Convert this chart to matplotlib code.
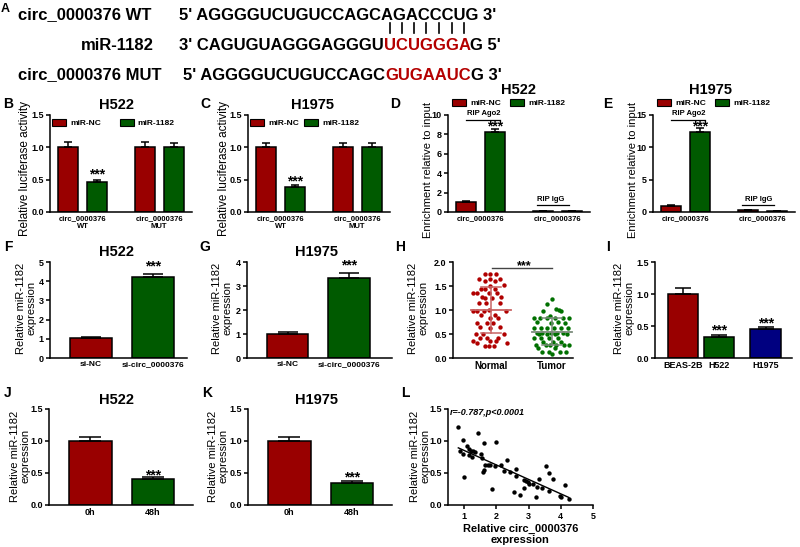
import matplotlib
matplotlib.use('Agg')
import matplotlib.pyplot as plt
from matplotlib.patches import Patch
from matplotlib.lines import Line2D
import numpy as np

plt.rcParams['font.family'] = ['Liberation Sans', 'DejaVu Sans']

# ---------------- data ----------------
seq_wt = "5' AGGGGUCUGUCCAGCAGACCCUG 3'"
seq_mir_pre = "3' CAGUGUAGGGAGGGU"
seq_mir_seed = "UCUGGGA"
seq_mir_post = "G 5'"
seq_mut_pre = "5' AGGGGUCUGUCCAGC"
seq_mut_red = "GUGAAUC"
seq_mut_post = "G 3'"

luc_groups = ['circ_0000376\nWT', 'circ_0000376\nMUT']
b_nc, b_nc_err = [1.00, 1.00], [0.08, 0.09]
b_mir, b_mir_err = [0.47, 1.00], [0.03, 0.06]
c_nc, c_nc_err = [1.00, 1.00], [0.06, 0.07]
c_mir, c_mir_err = [0.38, 1.01], [0.04, 0.05]

rip_groups = ['circ_0000376', 'circ_0000376']
d_nc, d_nc_err = [1.05, 0.10], [0.05, 0.01]
d_mir, d_mir_err = [8.25, 0.08], [0.30, 0.01]
e_nc, e_nc_err = [1.00, 0.35], [0.10, 0.03]
e_mir, e_mir_err = [12.3, 0.10], [0.70, 0.02]

si_groups = ['si-NC', 'si-circ_0000376']
f_vals, f_err = [1.02, 4.22], [0.07, 0.18]
g_vals, g_err = [1.00, 3.33], [0.07, 0.20]

normal_y = [1.76, 1.76, 1.76, 1.65, 1.65, 1.65, 1.60, 1.60, 1.53, 1.51,
            1.43, 1.43, 1.43, 1.35, 1.35, 1.35, 1.35, 1.28, 1.28, 1.24,
            1.24, 1.14, 1.14, 1.14, 1.01, 0.98, 0.98, 0.98, 0.98, 0.90,
            0.90, 0.83, 0.83, 0.72, 0.72, 0.72, 0.65, 0.65, 0.62, 0.51,
            0.51, 0.51, 0.42, 0.42, 0.42, 0.35, 0.35, 0.35, 0.32, 0.32,
            0.26, 0.26, 0.26]
normal_dx = [-0.10, -0.02, 0.08, -0.20, -0.01, 0.14, -0.10, 0.06, 0.22, -0.02,
             -0.17, -0.09, 0.07, -0.29, -0.23, -0.04, 0.10, -0.15, 0.17, -0.10,
             0.02, -0.19, -0.08, 0.14, -0.04, -0.29, -0.22, -0.12, 0.24, -0.16,
             0.07, -0.02, 0.12, -0.23, -0.07, 0.04, -0.18, 0.14, -0.02, -0.25,
             -0.13, 0.21, -0.18, -0.07, 0.12, -0.29, -0.01, 0.09, -0.22, 0.27,
             -0.10, -0.03, 0.05]
tumor_y = [1.22, 1.12, 1.03, 1.00, 0.97, 0.97, 0.88, 0.84, 0.84, 0.84,
           0.84, 0.84, 0.84, 0.76, 0.76, 0.72, 0.72, 0.63, 0.63, 0.63,
           0.63, 0.63, 0.63, 0.53, 0.53, 0.53, 0.53, 0.53, 0.49, 0.49,
           0.49, 0.49, 0.41, 0.41, 0.41, 0.41, 0.33, 0.33, 0.33, 0.27,
           0.27, 0.27, 0.27, 0.27, 0.27, 0.20, 0.20, 0.13, 0.13, 0.13,
           0.13, 0.09]
tumor_dx = [0.00, -0.09, 0.07, 0.11, -0.15, 0.14, -0.04, -0.29, -0.20, -0.09,
            0.04, 0.18, 0.27, -0.24, 0.10, -0.02, 0.21, -0.29, -0.18, -0.09,
            0.03, 0.14, 0.26, -0.25, -0.16, -0.02, 0.08, 0.18, -0.22, -0.09,
            0.04, 0.24, -0.29, -0.19, -0.05, 0.10, -0.15, 0.02, 0.15, -0.27,
            -0.10, -0.04, 0.07, 0.19, 0.28, -0.23, 0.04, -0.17, -0.06, 0.12,
            0.23, -0.01]
h_means = [1.00, 0.55]
h_sds = [0.48, 0.28]
h_groups = ['Normal', 'Tumor']

i_groups = ['BEAS-2B', 'H522', 'H1975']
i_vals, i_err = [1.00, 0.33, 0.45], [0.09, 0.03, 0.03]

time_groups = ['0h', '48h']
j_vals, j_err = [1.00, 0.40], [0.07, 0.03]
k_vals, k_err = [1.00, 0.35], [0.07, 0.03]

l_x = [0.82, 0.98, 0.87, 0.98, 1.01, 1.10, 1.16, 1.20, 1.14, 1.23,
       1.28, 1.34, 1.44, 1.53, 1.57, 1.58, 1.62, 1.63, 1.66, 1.73,
       1.80, 1.85, 1.95, 2.00, 2.13, 2.23, 2.32, 2.41, 2.55, 2.60,
       2.62, 2.74, 2.85, 2.87, 2.91, 2.97, 3.02, 3.14, 3.22, 3.26,
       3.33, 3.43, 3.53, 3.64, 3.75, 3.62, 3.99, 4.01, 4.12, 4.25]
l_y = [1.22, 1.02, 0.85, 0.80, 0.43, 0.92, 0.88, 0.85, 0.78, 0.75,
       0.85, 0.83, 1.13, 0.80, 0.74, 0.52, 0.54, 0.97, 0.63, 0.63,
       0.63, 0.25, 0.61, 0.99, 0.63, 0.53, 0.71, 0.51, 0.20, 0.46,
       0.57, 0.15, 0.27, 0.39, 0.37, 0.36, 0.33, 0.33, 0.12, 0.28,
       0.41, 0.27, 0.61, 0.50, 0.41, 0.22, 0.14, 0.13, 0.31, 0.10]
l_text = 'r=-0.787,p<0.0001'

# ---------------- style ----------------
W, H = 800, 547
RED = '#990000'
GREEN = '#005a00'
BLUE = '#000080'
SEQRED = '#b40000'
LW = 1.1
STAR = 10

fig = plt.figure(figsize=(W / 100, H / 100), dpi=100)
fig.patch.set_facecolor('white')


def add_ax(x0, x1, ytop, ybot):
    return fig.add_axes([x0 / W, 1 - ybot / H, (x1 - x0) / W, (ybot - ytop) / H])


def ftext(x, y, s, **kw):
    return fig.text(x / W, 1 - y / H, s, **kw)


def style(ax, ylim, yticks, fmt, xlen=0):
    ax.set_ylim(*ylim)
    ax.set_yticks(yticks)
    ax.set_yticklabels([fmt.format(v) for v in yticks], fontsize=6.5, fontweight='bold')
    for s in ('top', 'right'):
        ax.spines[s].set_visible(False)
    for s in ('left', 'bottom'):
        ax.spines[s].set_linewidth(LW)
    ax.tick_params(axis='y', length=3, width=LW, pad=1.5)
    ax.tick_params(axis='x', length=xlen, width=LW, pad=2)
    ax.patch.set_alpha(0)


def ylab(x, y, s, size=8.5, weight='normal'):
    ftext(x, y, s, rotation=90, ha='center', va='center', fontsize=size,
          fontweight=weight, linespacing=1.05)


def stars(ax, x, y, size=STAR):
    # y = visual centre of the asterisks
    ax.annotate('***', (x, y), xytext=(0, -0.36 * size), textcoords='offset points',
                ha='center', va='baseline', fontsize=size, fontweight='bold',
                annotation_clip=False)


def grouped(ax, groups, nc, nc_err, mir, mir_err, cap, lsize=5.5):
    x = np.arange(len(groups))
    off, w = 0.19, 0.26
    ax.bar(x - off, nc, w, color=RED, edgecolor='black', linewidth=LW, zorder=2)
    ax.bar(x + off, mir, w, color=GREEN, edgecolor='black', linewidth=LW, zorder=2)
    ax.errorbar(x - off, nc, yerr=[np.zeros(len(nc)), nc_err], fmt='none', ecolor='black',
                elinewidth=LW, capsize=cap, capthick=LW, zorder=3)
    ax.errorbar(x + off, mir, yerr=[np.zeros(len(mir)), mir_err], fmt='none', ecolor='black',
                elinewidth=LW, capsize=cap, capthick=LW, zorder=3)
    ax.set_xlim(-0.43, 1.43)
    ax.set_xticks(x)
    ax.set_xticklabels(groups, fontsize=lsize, fontweight='bold', linespacing=1.15)
    return x, off


def legend(ax, bx, by, cs, hl=1.7):
    handles = [Patch(facecolor=RED, edgecolor='black', linewidth=0.8, label='miR-NC'),
               Patch(facecolor=GREEN, edgecolor='black', linewidth=0.8, label='miR-1182')]
    ax.legend(handles=handles, loc='center left', bbox_to_anchor=(bx, by), ncol=2,
              frameon=False, prop={'weight': 'bold', 'size': 6}, handlelength=hl,
              handleheight=0.9, handletextpad=0.5, columnspacing=cs, borderpad=0,
              borderaxespad=0)


def simple_bars(ax, pos, vals, err, colors, width, cap, labels, xlim, lsize=7):
    ax.bar(pos, vals, width, color=colors, edgecolor='black', linewidth=LW, zorder=2)
    ax.errorbar(pos, vals, yerr=[np.zeros(len(vals)), err], fmt='none', ecolor='black',
                elinewidth=LW, capsize=cap, capthick=LW, zorder=3)
    ax.set_xlim(*xlim)
    ax.set_xticks(pos)
    ax.set_xticklabels(labels, fontsize=lsize, fontweight='bold')


# ---------------- panel A ----------------
ftext(5, 9, 'A', fontsize=9, fontweight='bold', ha='center', va='center')
AFS = 12
ftext(18, 15, 'circ_0000376 WT', fontsize=AFS, fontweight='bold', ha='left', va='center')
ftext(154, 45, 'miR-1182', fontsize=AFS, fontweight='bold', ha='right', va='center')
ftext(18, 75, 'circ_0000376 MUT', fontsize=AFS, fontweight='bold', ha='left', va='center')

renderer = fig.canvas.get_renderer()


def seq_row(x0, yc, pieces):
    x = x0
    arts = []
    for s, c in pieces:
        t = ftext(x, yc, s, color=c, fontsize=AFS, fontweight='bold', ha='left', va='center')
        bb = t.get_window_extent(renderer)
        x = bb.x1
        arts.append(t)
    return arts


seq_row(179, 15, [(seq_wt, 'black')])
row2 = seq_row(179, 45, [(seq_mir_pre, 'black')] + [(ch, SEQRED) for ch in seq_mir_seed]
               + [(seq_mir_post, 'black')])
seq_row(183, 75, [(seq_mut_pre, 'black'), (seq_mut_red, SEQRED), (seq_mut_post, 'black')])
for t in row2[1:1 + len(seq_mir_seed)]:
    bb = t.get_window_extent(renderer)
    cx = (bb.x0 + bb.x1) / 2
    fig.add_artist(Line2D([cx / W, cx / W], [1 - 33 / H, 1 - 23 / H], transform=fig.transFigure,
                          color='black', lw=1.2))

# ---------------- row 1 ----------------
# B
axB = add_ax(50, 192, 115, 212)
grouped(axB, luc_groups, b_nc, b_nc_err, b_mir, b_mir_err, 3)
style(axB, (0, 1.5), [0, 0.5, 1.0, 1.5], '{:.1f}')
legend(axB, 0.014, 0.918, 2.2)
stars(axB, 0.19, b_mir[0] + b_mir_err[0] + 0.10)
ftext(8, 104, 'B', fontsize=10, fontweight='bold', ha='center', va='center')
ftext(117, 105, 'H522', fontsize=10.5, fontweight='bold', ha='center', va='center')
ylab(25, 168, 'Relative luciferase activity')

# C
axC = add_ax(248, 390, 115, 212)
grouped(axC, luc_groups, c_nc, c_nc_err, c_mir, c_mir_err, 3)
style(axC, (0, 1.5), [0, 0.5, 1.0, 1.5], '{:.1f}')
legend(axC, 0.014, 0.918, 0.6)
stars(axC, 0.19, c_mir[0] + c_mir_err[0] + 0.07)
ftext(205, 104, 'C', fontsize=10, fontweight='bold', ha='center', va='center')
ftext(313, 105, 'H1975', fontsize=10.5, fontweight='bold', ha='center', va='center')
ylab(224, 168, 'Relative luciferase activity')

# D
axD = add_ax(448, 590, 115, 212)
grouped(axD, rip_groups, d_nc, d_nc_err, d_mir, d_mir_err, 3)
style(axD, (0, 10), [0, 2, 4, 6, 8, 10], '{:d}')
legend(axD, 0.03, 1.124, 1.0)
axD.text(0.04, 10.2, 'RIP Ago2', ha='center', va='center', fontsize=5.5, fontweight='bold', clip_on=False)
axD.plot([-0.19, 0.25], [9.5, 9.5], color='black', lw=0.9, clip_on=False)
stars(axD, 0.19, d_mir[0] + d_mir_err[0] + 0.42)
axD.text(0.91, 1.25, 'RIP IgG', ha='center', va='center', fontsize=5.5, fontweight='bold')
axD.plot([0.74, 1.15], [0.72, 0.72], color='black', lw=0.9)
ftext(395, 104, 'D', fontsize=10, fontweight='bold', ha='center', va='center')
ftext(518, 90, 'H522', fontsize=10.5, fontweight='bold', ha='center', va='center')
ylab(428, 170, 'Enrichment relative to input', size=8)

# E
axE = add_ax(653, 795, 115, 212)
grouped(axE, rip_groups, e_nc, e_nc_err, e_mir, e_mir_err, 3)
style(axE, (0, 15), [0, 5, 10, 15], '{:d}')
legend(axE, 0.03, 1.124, 1.0)
axE.text(0.04, 15.3, 'RIP Ago2', ha='center', va='center', fontsize=5.5, fontweight='bold', clip_on=False)
axE.plot([-0.19, 0.25], [14.2, 14.2], color='black', lw=0.9, clip_on=False)
stars(axE, 0.19, e_mir[0] + e_mir_err[0] + 0.45)
axE.text(0.95, 1.9, 'RIP IgG', ha='center', va='center', fontsize=5.5, fontweight='bold')
axE.plot([0.74, 1.15], [1.08, 1.08], color='black', lw=0.9)
ftext(608, 104, 'E', fontsize=10, fontweight='bold', ha='center', va='center')
ftext(710, 90, 'H1975', fontsize=10.5, fontweight='bold', ha='center', va='center')
ylab(633, 170, 'Enrichment relative to input', size=8)

# ---------------- row 2 ----------------
ML = 'Relative miR-1182\nexpression'
# F
axF = add_ax(50, 187, 262, 358)
simple_bars(axF, [0, 1], f_vals, f_err, [RED, GREEN], 0.68, 7, si_groups, (-0.66, 1.55), 6)
style(axF, (0, 5), [0, 1, 2, 3, 4, 5], '{:d}')
stars(axF, 1, f_vals[1] + f_err[1] + 0.44)
ftext(8, 247, 'F', fontsize=10, fontweight='bold', ha='center', va='center')
ftext(117, 252, 'H522', fontsize=10.5, fontweight='bold', ha='center', va='center')
ylab(26, 308, ML, size=8)

# G
axG = add_ax(247, 392, 262, 358)
simple_bars(axG, [0, 1], g_vals, g_err, [RED, GREEN], 0.68, 7, si_groups, (-0.66, 1.7), 6)
style(axG, (0, 4), [0, 1, 2, 3, 4], '{:d}')
stars(axG, 1, g_vals[1] + g_err[1] + 0.35)
ftext(205, 247, 'G', fontsize=10, fontweight='bold', ha='center', va='center')
ftext(317, 252, 'H1975', fontsize=10.5, fontweight='bold', ha='center', va='center')
ylab(222, 308, ML, size=8)

# H
axH = add_ax(453, 573, 262, 358)
axH.scatter(np.array(normal_dx), normal_y, s=10, color='#b00000', zorder=2, linewidths=0)
axH.scatter(1 + np.array(tumor_dx), tumor_y, s=10, color='#007000', zorder=2, linewidths=0)
for i, (m, sd, c) in enumerate(zip(h_means, h_sds, ['#c86464', '#7d8c7d'])):
    axH.plot([i - 0.33, i + 0.33], [m, m], color=c, lw=1.3, zorder=3)
    axH.plot([i, i], [m - sd, m + sd], color=c, lw=1.1, zorder=3)
    axH.plot([i - 0.16, i + 0.16], [m - sd, m - sd], color=c, lw=1.1, zorder=3)
    axH.plot([i - 0.16, i + 0.16], [m + sd, m + sd], color=c, lw=1.1, zorder=3)
axH.plot([0.02, 1.0], [1.875, 1.875], color='#444444', lw=1.0)
stars(axH, 0.55, 1.95, 9)
axH.set_xlim(-0.62, 1.34)
axH.set_xticks([0, 1])
axH.set_xticklabels(h_groups, fontsize=7, fontweight='bold')
style(axH, (0, 2.0), [0, 0.5, 1.0, 1.5, 2.0], '{:.1f}')
ftext(400, 247, 'H', fontsize=10, fontweight='bold', ha='center', va='center')
ylab(418, 308, ML, size=8)

# I
axI = add_ax(655, 792, 262, 358)
simple_bars(axI, [0, 1, 2.3], i_vals, i_err, [RED, GREEN, BLUE], 0.85, 6, i_groups,
            (-0.78, 3.03), 6.5)
style(axI, (0, 1.5), [0, 0.5, 1.0, 1.5], '{:.1f}')
stars(axI, 1, i_vals[1] + i_err[1] + 0.08)
stars(axI, 2.3, i_vals[2] + i_err[2] + 0.08)
ftext(608, 247, 'I', fontsize=10, fontweight='bold', ha='center', va='center')
ylab(624, 308, ML, size=8)

# ---------------- row 3 ----------------
# J
axJ = add_ax(49, 193, 409, 505)
simple_bars(axJ, [0, 1], j_vals, j_err, [RED, GREEN], 0.68, 8, time_groups, (-0.66, 1.64), 6.5)
style(axJ, (0, 1.5), [0, 0.5, 1.0, 1.5], '{:.1f}')
stars(axJ, 1, j_vals[1] + j_err[1] + 0.05)
ftext(8, 393, 'J', fontsize=10, fontweight='bold', ha='center', va='center')
ftext(117, 400, 'H522', fontsize=10.5, fontweight='bold', ha='center', va='center')
ylab(20, 456, ML, size=8)

# K
axK = add_ax(248, 392, 409, 505)
simple_bars(axK, [0, 1], k_vals, k_err, [RED, GREEN], 0.68, 8, time_groups, (-0.66, 1.64), 6.5)
style(axK, (0, 1.5), [0, 0.5, 1.0, 1.5], '{:.1f}')
stars(axK, 1, k_vals[1] + k_err[1] + 0.06)
ftext(207, 393, 'K', fontsize=10, fontweight='bold', ha='center', va='center')
ftext(317, 400, 'H1975', fontsize=10.5, fontweight='bold', ha='center', va='center')
ylab(218, 456, ML, size=8)

# L
axL = add_ax(448, 593, 409, 505)
axL.scatter(l_x, l_y, s=10, color='black', zorder=3, linewidths=0)
coef = np.polyfit(l_x, l_y, 1)
xx = np.array([min(l_x), max(l_x)])
axL.plot(xx, np.polyval(coef, xx), color='black', lw=1.0)
axL.set_xlim(0.5, 5)
axL.set_xticks([1, 2, 3, 4, 5])
axL.set_xticklabels(['1', '2', '3', '4', '5'], fontsize=6.5, fontweight='bold')
style(axL, (0, 1.5), [0, 0.5, 1.0, 1.5], '{:.1f}', xlen=3)
axL.text(0.56, 1.44, l_text, fontsize=6.5, fontweight='bold', style='italic', ha='left', va='center')
axL.set_xlabel('Relative circ_0000376\nexpression', fontsize=8, fontweight='bold', labelpad=2,
               linespacing=1.1)
ftext(405, 393, 'L', fontsize=10, fontweight='bold', ha='center', va='center')
ylab(420, 456, ML, size=8)

fig.savefig('out.png', dpi=100, facecolor='white')
